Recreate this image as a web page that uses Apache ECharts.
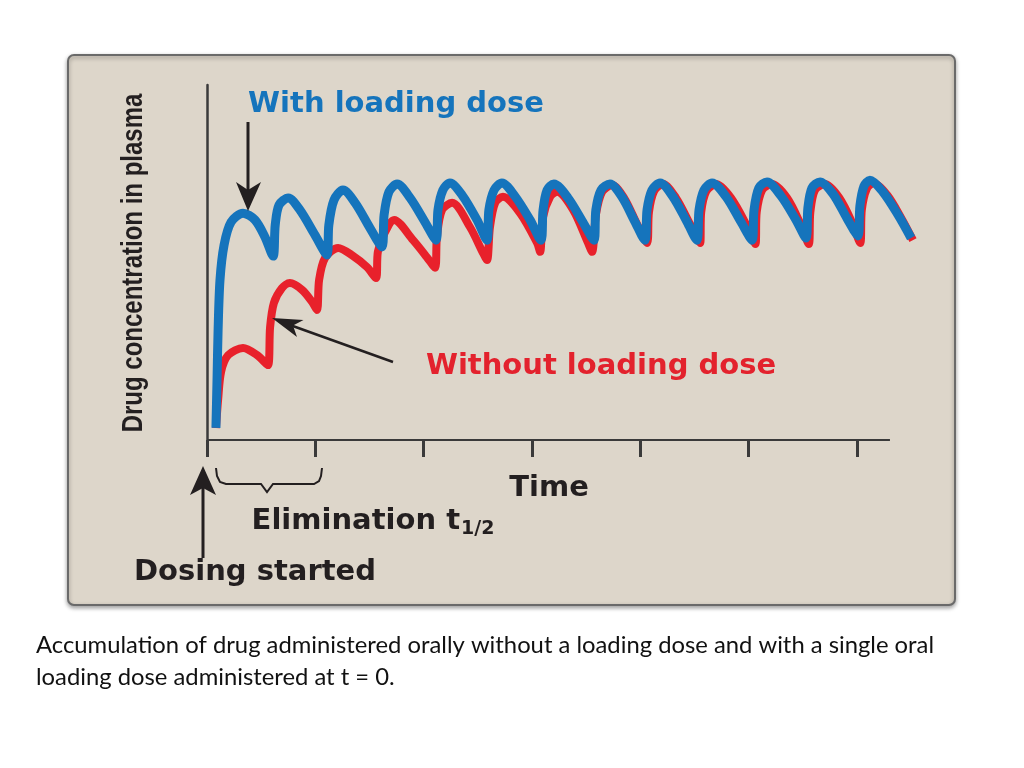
<!DOCTYPE html>
<html>
<head>
<meta charset="utf-8">
<script src="https://cdn.jsdelivr.net/npm/echarts@6/dist/echarts.min.js"></script>
<style>
html,body{margin:0;padding:0;background:#fff;}
#chart{width:1024px;height:768px;}
</style>
</head>
<body>
<div id="chart"></div>
<script>
// Time in hours (elimination half-life = 4 h, one tick per half-life); concentration in arbitrary units (0-100)
const tickTimes = [0, 4, 8, 12, 16, 20, 24];
const timeAxisEnd = 25.22;   // where the drawn time axis stops
const plotTimeMax = 26.3;    // curves run a little past the axis end

const withLoadingTime = [0.33,0.37,0.41,0.48,0.63,0.89,1.33,1.77,2.14,2.44,
  2.52,2.66,3.0,3.43,3.99,4.43,4.5,4.69,5.02,5.47,6.02,6.46,6.54,6.72,7.02,
  7.5,8.05,8.46,8.53,8.71,8.97,9.42,9.97,10.34,10.41,10.6,10.89,11.37,11.93,12.33,
  12.41,12.56,12.81,13.33,13.88,14.29,14.36,14.55,14.88,15.32,15.81,16.17,16.25,16.43,16.73,
  17.21,17.73,18.09,18.17,18.35,18.65,19.17,19.72,20.13,20.2,20.38,20.68,21.2,21.75,22.12,
  22.19,22.34,22.64,23.12,23.63,24.04,24.11,24.26,24.48,24.96,25.52,26.0];
const withLoadingConc = [3.4,16.9,31.0,45.1,54.9,61.4,63.9,62.0,57.2,51.8,
  60.6,66.2,68.2,64.8,57.7,52.1,60.6,67.6,70.4,66.8,59.7,54.4,63.4,69.9,72.1,
  68.2,61.4,56.3,64.8,70.4,72.4,69.0,62.0,56.3,64.8,70.4,72.4,68.7,62.0,56.3,
  64.8,70.4,72.1,68.2,61.4,56.3,64.8,70.4,72.1,68.5,61.4,56.3,64.8,70.4,72.4,
  68.5,61.4,56.3,64.8,70.4,72.4,68.5,61.4,56.3,64.8,71.0,72.7,68.7,62.0,56.9,
  65.4,71.0,72.7,69.3,62.5,57.5,65.9,71.5,73.2,69.9,63.4,56.9];

const withoutLoadingTime = [0.33,0.41,0.52,0.78,1.33,1.85,2.25,2.33,2.47,2.77,3.06,3.51,3.88,4.06,
  4.14,4.36,4.84,5.35,5.91,6.24,6.31,6.54,6.91,7.61,8.12,8.42,8.49,8.68,9.05,9.71,10.19,10.34,
  10.45,10.64,10.93,11.56,12.19,12.3,12.41,12.67,12.92,13.52,14.07,14.22,14.36,14.59,14.96,15.4,
  15.88,16.25,16.32,16.51,16.84,17.32,17.84,18.21,18.25,18.44,18.8,19.35,19.94,20.25,20.3,20.5,
  20.86,21.42,21.95,22.22,22.28,22.45,22.82,23.35,23.85,24.12,24.18,24.36,24.62,25.12,25.64,26.07];
const withoutLoadingConc = [3.4,11.3,19.2,23.9,25.9,23.9,21.1,31.8,38.6,42.8,44.2,42.3,38.9,36.6,
  45.1,51.3,54.1,52.1,48.7,45.6,53.0,58.0,62.0,56.3,51.5,48.5,57.2,64.8,66.8,60.0,52.7,50.7,
  60.0,66.8,68.5,63.9,55.5,53.0,62.8,68.5,69.9,64.8,55.5,53.0,63.4,69.9,71.8,68.2,
  60.8,55.5,64.2,70.1,72.1,68.2,60.8,55.5,64.2,70.1,72.1,68.2,60.3,55.2,64.2,70.4,
  72.1,68.2,60.3,55.2,64.2,70.4,72.1,68.2,60.8,55.5,64.8,70.7,72.4,69.0,62.5,56.3];

const labels = {
  withLoading: 'With loading dose',
  withoutLoading: 'Without loading dose',
  xName: 'Time',
  yName: 'Drug concentration in plasma',
  halfLife: 'Elimination t',
  halfLifeSub: '1/2',
  dosing: 'Dosing started',
  caption1: 'Accumulation of drug administered orally without a loading dose and with a single oral',
  caption2: 'loading dose administered at t = 0.'
};

const BLUE = '#1574bc', RED = '#e8212b', INK = '#231f20', AXIS = '#3a3a3a';
const LABEL_FONT = 'DejaVu Sans';
const LABEL_SIZE = 29;

const chart = echarts.init(document.getElementById('chart'), null, {renderer: 'canvas'});

function arrowHead(tip, back1, notch, back2) {
  return {type: 'polygon', z: 100, shape: {points: [tip, back1, notch, back2]}, style: {fill: INK}};
}
function labelFont(size) { return 'bold ' + size + 'px "' + LABEL_FONT + '"'; }

const option = {
  animation: false,
  backgroundColor: '#ffffff',
  grid: {left: 207, top: 85, width: 712.2, height: 355},
  xAxis: {
    type: 'value', min: 0, max: plotTimeMax, interval: 4,
    axisLine: {show: false},
    axisTick: {show: true, inside: false, length: 17, customValues: tickTimes, lineStyle: {color: AXIS, width: 3}},
    axisLabel: {show: false},
    splitLine: {show: false}
  },
  yAxis: {
    type: 'value', min: 0, max: 100,
    axisLine: {show: true, lineStyle: {color: AXIS, width: 2.5}},
    axisTick: {show: false},
    axisLabel: {show: false},
    splitLine: {show: false}
  },
  series: [
    {
      name: labels.withoutLoading, type: 'line', symbol: 'none', smooth: 0.3,
      data: withoutLoadingTime.map((t, i) => [t, withoutLoadingConc[i]]),
      lineStyle: {color: RED, width: 8, cap: 'butt', join: 'round'},
      markLine: {
        silent: true, symbol: ['none', 'none'], label: {show: false},
        lineStyle: {color: AXIS, width: 2, type: 'solid'},
        data: [[{coord: [0, 0]}, {coord: [timeAxisEnd, 0]}]]
      }
    },
    {
      name: labels.withLoading, type: 'line', symbol: 'none', smooth: 0.3,
      data: withLoadingTime.map((t, i) => [t, withLoadingConc[i]]),
      lineStyle: {color: BLUE, width: 9, cap: 'butt', join: 'round'}
    }
  ],
  graphic: [
    {type: 'rect', z: -10, shape: {x: 68, y: 55, width: 887, height: 550, r: 6},
      style: {fill: '#ddd6ca', stroke: '#6a6a6a', lineWidth: 2, shadowBlur: 4, shadowColor: 'rgba(0,0,0,0.35)', shadowOffsetY: 2}},
    // labels
    {type: 'text', z: 100, x: 396, y: 104, style: {text: labels.withLoading, fill: BLUE, font: labelFont(LABEL_SIZE), align: 'center', verticalAlign: 'middle'}},
    {type: 'text', z: 100, x: 601, y: 366, style: {text: labels.withoutLoading, fill: '#e3222d', font: labelFont(LABEL_SIZE), align: 'center', verticalAlign: 'middle'}},
    {type: 'text', z: 100, x: 549, y: 488, style: {text: labels.xName, fill: INK, font: labelFont(LABEL_SIZE), align: 'center', verticalAlign: 'middle'}},
    {type: 'text', z: 100, x: 255, y: 572, style: {text: labels.dosing, fill: INK, font: labelFont(LABEL_SIZE), align: 'center', verticalAlign: 'middle'}},
    {type: 'text', z: 100, x: 373, y: 521, style: {
      text: '{m|' + labels.halfLife + '}{s|' + labels.halfLifeSub + '}',
      align: 'center', verticalAlign: 'middle',
      rich: {
        m: {fill: INK, fontFamily: LABEL_FONT, fontWeight: 'bold', fontSize: LABEL_SIZE},
        s: {fill: INK, fontFamily: LABEL_FONT, fontWeight: 'bold', fontSize: 19, padding: [17, 0, 0, 1]}
      }
    }},
    {type: 'text', z: 100, x: 134, y: 263, rotation: Math.PI / 2, scaleX: 0.8, scaleY: 1,
      style: {text: labels.yName, fill: INK, font: 'bold 30px "Liberation Sans"', align: 'center', verticalAlign: 'middle'}},
    // arrow to blue first peak
    {type: 'line', z: 100, shape: {x1: 248, y1: 122, x2: 248, y2: 192}, style: {stroke: INK, lineWidth: 3}},
    arrowHead([248, 211], [236, 182], [248, 190], [261, 182]),
    // arrow to red curve
    {type: 'line', z: 100, shape: {x1: 393, y1: 362, x2: 290, y2: 325}, style: {stroke: INK, lineWidth: 2.5}},
    arrowHead([272, 318], [297, 337], [293, 325.5], [303.5, 320]),
    // dosing started arrow
    {type: 'line', z: 100, shape: {x1: 203, y1: 558, x2: 203, y2: 486}, style: {stroke: INK, lineWidth: 3}},
    arrowHead([203, 466], [190, 495], [203, 488], [216, 495]),
    // brace under first half-life
    {type: 'polyline', z: 100, shape: {points: [[216,468],[217,476],[220,482],[226,484],[261,484],[267,492],[273,484],[314,484],[319,481],[321,476],[322,468]]},
      style: {stroke: INK, lineWidth: 2, fill: null}},
    // caption
    {type: 'text', z: 100, x: 36, y: 645, style: {text: labels.caption1, fill: '#111', font: '23.8px Lato', align: 'left', verticalAlign: 'middle'}},
    {type: 'text', z: 100, x: 36, y: 677, style: {text: labels.caption2, fill: '#111', font: '23.8px Lato', align: 'left', verticalAlign: 'middle'}}
  ]
};
chart.setOption(option);
</script>
</body>
</html>
